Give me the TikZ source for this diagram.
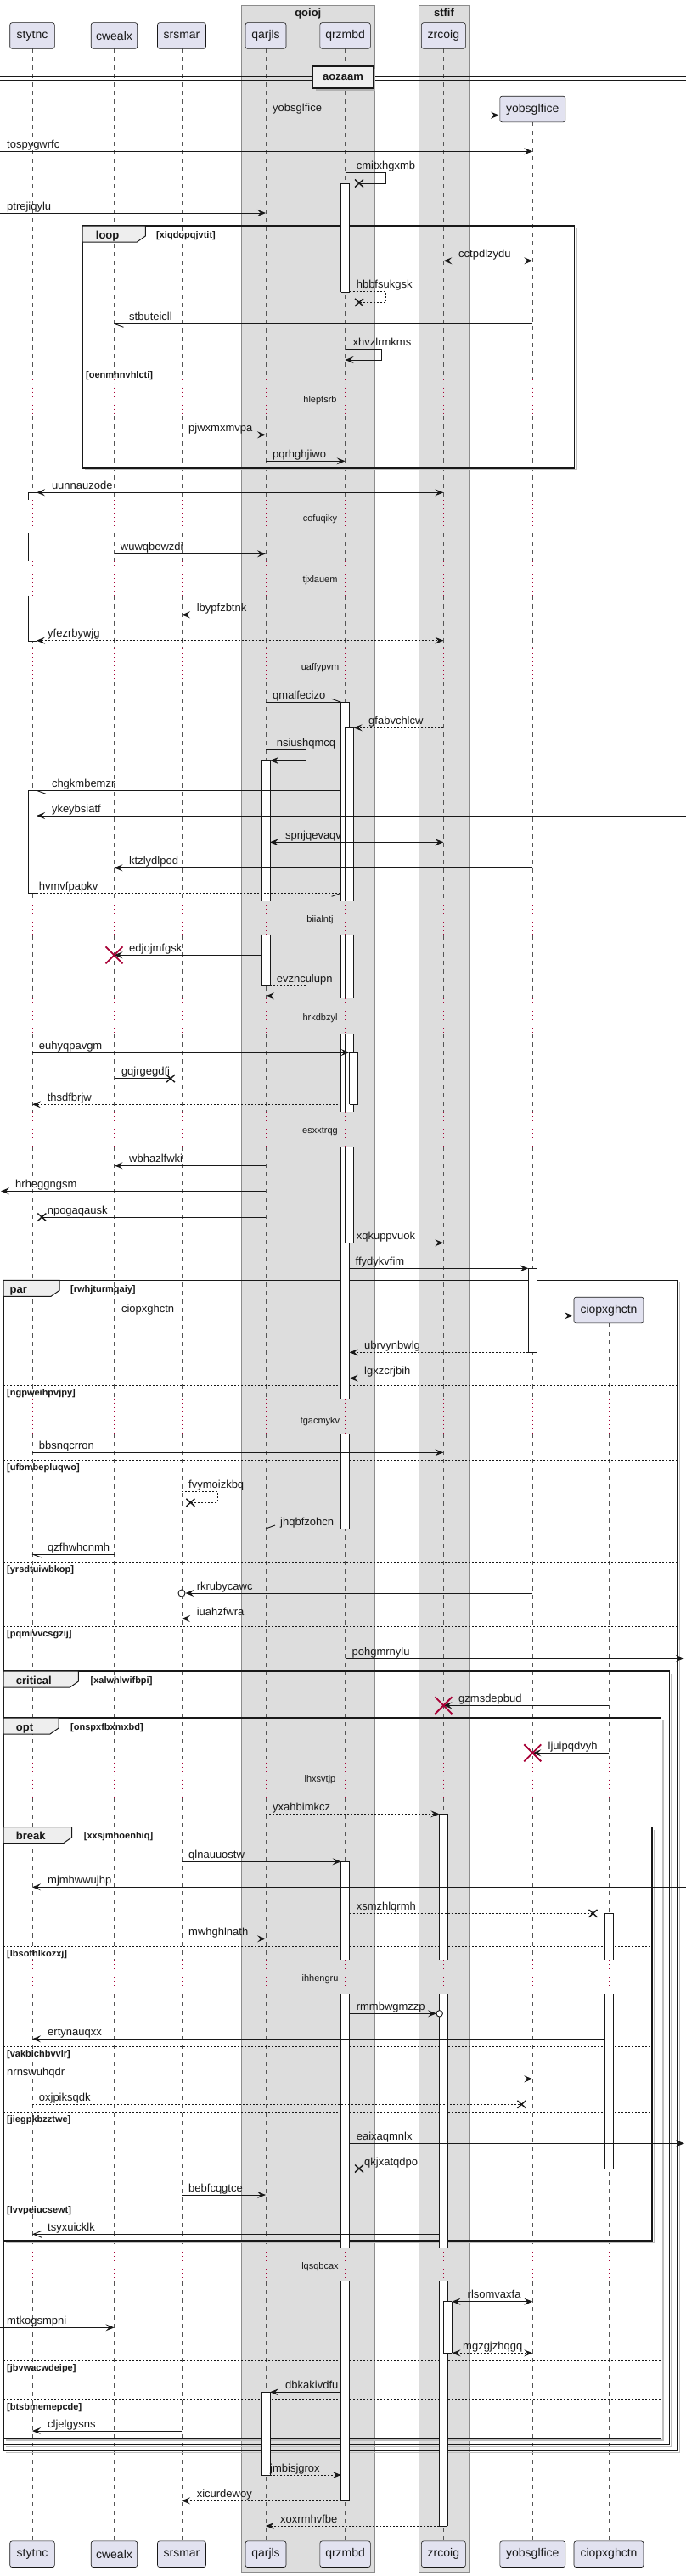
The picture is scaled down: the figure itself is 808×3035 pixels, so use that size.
\documentclass[tikz,border=0pt]{standalone}
\usepackage{fontspec}
\setmainfont{Liberation Sans}
\usetikzlibrary{arrows.meta}
\definecolor{partfill}{HTML}{E2E2F0}
\definecolor{grpfill}{HTML}{DDDDDD}
\definecolor{grpline}{HTML}{8C8C8C}
\definecolor{crim}{HTML}{A80036}
\definecolor{ink}{HTML}{181818}
\definecolor{tabfill}{HTML}{EEEEEE}
\definecolor{lifegray}{HTML}{555555}
\newcommand{\sdfm}{\fontsize{13}{15}\selectfont}
\newcommand{\sdfp}{\fontsize{14}{16}\selectfont}
\newcommand{\sdfd}{\fontsize{11}{13}\selectfont}
\newcommand{\sdfc}{\fontsize{11}{13}\selectfont\bfseries}
\newcommand{\sdft}{\fontsize{13}{15}\selectfont\bfseries}
\tikzset{
 part/.style={draw=ink, fill=partfill, rounded corners=2.5pt, line width=0.6pt, font=\sdfp, inner sep=0pt, minimum height=30.6pt, text=ink},
 lifedash/.style={draw=lifegray, line width=0.6pt, dash pattern=on 5pt off 5pt},
 lifedot/.style={draw=crim, line width=0.8pt, dash pattern=on 1pt off 4pt},
 mline/.style={draw=ink, line width=0.9pt},
 dsh/.style={dash pattern=on 2pt off 2pt},
 arr/.style={-{Stealth[length=10pt,width=8pt,inset=4pt]}},
 arrb/.style={{Stealth[length=10pt,width=8pt,inset=4pt]}-{Stealth[length=10pt,width=8pt,inset=4pt]}},
 arro/.style={-{Straight Barb[length=10pt,width=8pt]}},
 lbl/.style={anchor=base west, inner sep=0pt, font=\sdfm, text=ink},
 actline/.style={draw=ink, line width=0.8pt},
 frameline/.style={draw=ink, line width=1.5pt},
 frameshadow/.style={draw=black!25, line width=1.5pt},
 sepline/.style={draw=ink, line width=0.8pt, dash pattern=on 2pt off 2pt},
 condlbl/.style={anchor=base west, inner sep=0pt, font=\sdfc, text=ink},
 tablbl/.style={anchor=base west, inner sep=0pt, font=\sdft, text=ink},
 dlbl/.style={anchor=base, inner sep=0pt, font=\sdfd, text=ink},
}
\newcommand{\sdmsg}[7]{%
  \coordinate (#1a) at (#2,#4);
  \coordinate (#1b) at (#3,#4);
  \draw[mline,#5] (#1a) -- (#1b);
  \node[lbl] (#1l) at (#6,#4-4) {#7};}
\newcommand{\sdself}[9]{%
  \coordinate (#1a) at (#2,#3);
  \coordinate (#1b) at (#6,#4);
  \draw[mline,#7] (#1a) -- (#5,#3) -- (#5,#4) -- (#1b);
  \node[lbl] (#1l) at (#8,#3-4) {#9};}
\newcommand{\sdx}[2]{\draw[ink, line width=1.4pt] (#1-5,#2-4.5) -- (#1+5,#2+4.5) (#1-5,#2+4.5) -- (#1+5,#2-4.5);}
\newcommand{\sdrx}[2]{\draw[crim, line width=1.8pt] (#1-10,#2-10) -- (#1+10,#2+10) (#1-10,#2+10) -- (#1+10,#2-10);}
\newcommand{\sdseg}[3]{\fill[white] (#1,#2) rectangle (#1+10,#3); \draw[actline] (#1,#2) -- (#1,#3) (#1+10,#2) -- (#1+10,#3);}
\newcommand{\sdcap}[2]{\draw[actline] (#1,#2) -- (#1+10,#2);}
\newcommand{\sdtab}[3]{\filldraw[fill=tabfill, draw=ink, line width=1pt] (#1,#2) -- (#1+#3,#2) -- (#1+#3,#2+12) -- (#1+#3-10,#2+19) -- (#1,#2+19) -- cycle;}
\newcommand{\sdframe}[4]{\draw[frameshadow] (#1+3,#4+2.5) -- (#3+2.5,#4+2.5) -- (#3+2.5,#2+3); \draw[frameline] (#1,#2) rectangle (#3,#4);}
\newcommand{\sdsep}[5]{\draw[sepline] (#2,#4) -- (#3,#4); \node[condlbl] (#1) at (#2+4,#4+12) {#5};}
\newcommand{\sdDashAll}{57.3/446.7,490/589,628/661,701.7/764,803/1061,1101.7/1176,1218/1310,1351/1647.7,1689/2071.7,2118.3/2309.3,2349.3/2648.3,2688.3/2993.3}
\newcommand{\sdDotAll}{446.7/490,589/628,661/701.7,764/803,1061/1101.7,1176/1218,1310/1351,1647.7/1689,2071.7/2118.3,2309.3/2349.3,2648.3/2688.3}
\newcommand{\sdDashY}{144/446.7,490/589,628/661,701.7/764,803/1061,1101.7/1176,1218/1310,1351/1647.7,1689/2071.7,2118.3/2309.3,2349.3/2648.3,2688.3/2993.3}
\newcommand{\sdDashC}{1559/1647.7,1689/2071.7,2118.3/2309.3,2349.3/2648.3,2688.3/2993.3}
\newcommand{\sdDotC}{1647.7/1689,2071.7/2118.3,2309.3/2349.3,2648.3/2688.3}
\begin{document}
\begin{tikzpicture}[x=1pt,y=-1pt]
\useasboundingbox (0,0) rectangle (808,3035);
\fill[white] (0,0) rectangle (808,3035);
% groups
\filldraw[fill=grpfill, draw=grpline, line width=0.8pt] (284.6,6) rectangle (441,3030.7);
\filldraw[fill=grpfill, draw=grpline, line width=0.8pt] (493.4,6) rectangle (552.6,3030.7);
\node[anchor=base, inner sep=0pt, font=\sdft, text=ink] (g1) at (362.8,19.5) {qoioj};
\node[anchor=base, inner sep=0pt, font=\sdft, text=ink] (g2) at (523,19.5) {stfif};
% lifelines
\foreach \xx in {38,134.5,214,313,406.6,522.4}{
  \foreach \ya/\yb in \sdDashAll {\draw[lifedash] (\xx,\ya) -- (\xx,\yb);}
  \foreach \ya/\yb in \sdDotAll {\draw[lifedot] (\xx,\ya) -- (\xx,\yb);}
}
\foreach \ya/\yb in \sdDashY {\draw[lifedash] (627.3,\ya) -- (627.3,\yb);}
\foreach \ya/\yb in \sdDotAll {\draw[lifedot] (627.3,\ya) -- (627.3,\yb);}
\foreach \ya/\yb in \sdDashC {\draw[lifedash] (717,\ya) -- (717,\yb);}
\foreach \ya/\yb in \sdDotC {\draw[lifedot] (717,\ya) -- (717,\yb);}
% participants
\node[part, minimum width=52.6pt] (p1) at (38,42) {stytnc};
\node[part, minimum width=54.5pt] (p2) at (134.5,42) {cwealx};
\node[part, minimum width=57pt] (p3) at (214,42) {srsmar};
\node[part, minimum width=48pt] (p4) at (313,42) {qarjls};
\node[part, minimum width=59.5pt] (p5) at (406.6,42) {qrzmbd};
\node[part, minimum width=52pt] (p6) at (522.4,42) {zrcoig};
\node[part, minimum width=77pt] (p7) at (627.3,128.5) {yobsglfice};
\node[part, minimum width=82pt] (p8) at (717,1543.5) {ciopxghctn};
\node[part, minimum width=52.6pt] (q1) at (38,3009.2) {stytnc};
\node[part, minimum width=54.5pt] (q2) at (134.5,3009.2) {cwealx};
\node[part, minimum width=57pt] (q3) at (214,3009.2) {srsmar};
\node[part, minimum width=48pt] (q4) at (313,3009.2) {qarjls};
\node[part, minimum width=59.5pt] (q5) at (406.6,3009.2) {qrzmbd};
\node[part, minimum width=52pt] (q6) at (522.4,3009.2) {zrcoig};
\node[part, minimum width=77pt] (q7) at (627.3,3009.2) {yobsglfice};
\node[part, minimum width=82pt] (q8) at (717,3009.2) {ciopxghctn};
% divider
\draw[ink, line width=0.9pt] (0,90) -- (808,90) (0,94) -- (808,94);
\fill[black!30] (371.7,81) rectangle (442.4,107);
\node[fill=tabfill, draw=ink, line width=1.5pt, minimum width=70.7pt, minimum height=26pt, inner sep=0pt, font=\sdft, text=ink] (dv) at (404,91) {aozaam};
% frames
\sdframe{97}{266}{676.6}{551}
\sdtab{97}{266}{74.3}
\node[tablbl] (f1t) at (112.7,281) {loop};
\node[condlbl] (f1c) at (184,280) {[xiqdopqjvtit]};
\sdsep{s1}{97}{676.6}{433.3}{[oenmhnvhlcti]}
\sdframe{4}{1508.3}{798}{2887}
\sdtab{4}{1508.3}{66}
\node[tablbl] (f2t) at (11.4,1523.3) {par};
\node[condlbl] (f2c) at (83,1522.3) {[rwhjturmqaiy]};
\sdsep{s2}{4}{798}{1632.3}{[ngpweihpvjpy]}
\sdsep{s3}{4}{798}{1720.3}{[ufbmbepluqwo]}
\sdsep{s4}{4}{798}{1840}{[yrsdtuiwbkop]}
\sdsep{s5}{4}{798}{1916}{[pqmivvcsgzij]}
\sdframe{4}{1969}{788.3}{2880}
\sdtab{4}{1969}{88.4}
\node[tablbl] (f3t) at (18.7,1984) {critical};
\node[condlbl] (f3c) at (106.5,1983) {[xalwhlwifbpi]};
\sdframe{4}{2024}{778.5}{2872.5}
\sdtab{4}{2024}{65}
\node[tablbl] (f4t) at (18.7,2039) {opt};
\node[condlbl] (f4c) at (83,2038) {[onspxfbxmxbd]};
\sdsep{s10}{4}{778.5}{2781}{[jbvwacwdeipe]}
\sdsep{s11}{4}{778.5}{2827.3}{[btsbmemepcde]}
\sdframe{4}{2152.7}{768}{2640}
\sdtab{4}{2152.7}{80.6}
\node[tablbl] (f5t) at (18.7,2167.7) {break};
\node[condlbl] (f5c) at (98.7,2166.7) {[xxsjmhoenhiq]};
\sdsep{s6}{4}{768}{2293.3}{[lbsofhlkozxj]}
\sdsep{s7}{4}{768}{2411.3}{[vakbichbvvlr]}
\sdsep{s8}{4}{768}{2488.3}{[jiegpkbzztwe]}
\sdsep{s9}{4}{768}{2595}{[lvvpeiucsewt]}
% activations
\sdseg{401.6}{216}{344} \sdcap{401.6}{216} \sdcap{401.6}{344}
\sdseg{33}{580.3}{589} \sdseg{33}{628}{661} \sdseg{33}{701.7}{755} \sdcap{33}{580.3} \sdcap{33}{755}
\sdseg{401.6}{827.3}{1061} \sdseg{401.6}{1101.7}{1176} \sdseg{401.6}{1218}{1310} \sdseg{401.6}{1351}{1647.7} \sdseg{401.6}{1689}{1801}
\sdcap{401.6}{827.3} \sdcap{401.6}{1801}
\sdseg{406.6}{857.3}{1061} \sdseg{406.6}{1101.7}{1176} \sdseg{406.6}{1218}{1310} \sdseg{406.6}{1351}{1464.3}
\sdcap{406.6}{857.3} \sdcap{406.6}{1464.3}
\sdseg{308}{896}{1061} \sdseg{308}{1101.7}{1161} \sdcap{308}{896} \sdcap{308}{1161}
\sdseg{33}{931.3}{1052.3} \sdcap{33}{931.3} \sdcap{33}{1052.3}
\sdseg{411.6}{1240}{1301.3} \sdcap{411.6}{1240} \sdcap{411.6}{1301.3}
\sdseg{622.3}{1494.3}{1593.3} \sdcap{622.3}{1494.3} \sdcap{622.3}{1593.3}
\sdseg{517.4}{2137.3}{2309.3} \sdseg{517.4}{2349.3}{2648.3} \sdseg{517.4}{2688.3}{2976} \sdcap{517.4}{2137.3} \sdcap{517.4}{2976}
\sdseg{401.6}{2193.3}{2309.3} \sdseg{401.6}{2349.3}{2648.3} \sdseg{401.6}{2688.3}{2946.3} \sdcap{401.6}{2193.3} \sdcap{401.6}{2946.3}
\sdseg{712}{2254.3}{2309.3} \sdseg{712}{2349.3}{2555} \sdcap{712}{2254.3} \sdcap{712}{2555}
\sdseg{522.4}{2711.7}{2772.3} \sdcap{522.4}{2711.7} \sdcap{522.4}{2772.3}
\sdseg{308}{2818.3}{2916} \sdcap{308}{2818.3} \sdcap{308}{2916}
% messages
\sdmsg{m1}{313}{588}{135.7}{arr}{321}{yobsglfice}
\sdmsg{m2}{0}{627.3}{178.3}{arr}{8}{tospygwrfc}
\sdself{m3}{406.6}{203}{216}{454.4}{423}{}{419.6}{cmitxhgxmb} \sdx{423}{216}
\sdmsg{m4}{0}{313}{251}{arr}{8}{ptrejiqylu}
\sdmsg{m5}{522.4}{627.3}{307.3}{arrb}{540}{cctpdlzydu}
\sdself{m6}{411.6}{343.3}{356.3}{454.4}{423}{dsh}{419.6}{hbbfsukgsk} \sdx{423}{356.3}
\sdmsg{m7}{627.3}{134.5}{381.3}{}{152}{stbuteicll} \draw[mline] (m7b) -- ++(11,4);
\sdself{m8}{406.6}{411.7}{424}{449}{406.6}{arr}{415.5}{xhvzlrmkms}
\sdmsg{m9}{214}{313}{512.3}{arr,dsh}{222}{pjwxmxmvpa}
\sdmsg{m10}{313}{406.6}{543.3}{arr}{321}{pqrhghjiwo}
\sdmsg{m11}{43}{522.4}{580.3}{arrb}{60.8}{uunnauzode}
\sdmsg{m12}{134.5}{313}{652.3}{arr}{141.7}{wuwqbewzdi}
\sdmsg{m13}{808}{214}{724.3}{arr}{231.6}{lbypfzbtnk}
\sdmsg{m14}{43}{522.4}{754.7}{arrb,dsh}{56}{yfezrbywjg}
\sdmsg{m15}{313}{401.6}{827.3}{}{321}{qmalfecizo} \draw[mline] (m15b) -- ++(-11,-4);
\sdmsg{m16}{522.4}{416.6}{857.3}{arr,dsh}{434}{gfabvchlcw}
\sdself{m17}{313}{883.3}{896}{360.4}{318}{arr}{325.6}{nsiushqmcq}
\sdmsg{m18}{401.6}{43}{931.3}{}{60.8}{chgkmbemzr} \draw[mline] (m18b) -- ++(11,4);
\sdmsg{m19}{808}{43}{961}{arr}{60.8}{ykeybsiatf}
\sdmsg{m20}{318}{522.4}{992.3}{arrb}{336}{spnjqevaqv}
\sdmsg{m21}{627.3}{134.5}{1022.3}{arr}{152}{ktzlydlpod}
\sdmsg{m22}{43}{401.6}{1052.3}{dsh}{45.7}{hvmvfpapkv} \draw[mline] (m22b) -- ++(-11,4);
\sdmsg{m23}{308}{134.5}{1125.3}{arr}{152}{edjojmfgsk} \sdrx{134.5}{1125.3}
\sdself{m24}{318}{1161}{1173.3}{360.4}{313}{arr,dsh}{325.6}{evznculupn}
\sdmsg{m25}{38}{411.6}{1240}{arr}{45.7}{euhyqpavgm}
\sdmsg{m26}{134.5}{201}{1270.7}{}{142.8}{gqjrgegdfi} \sdx{201}{1270.7}
\sdmsg{m27}{401.6}{38}{1301.3}{arr,dsh}{55.6}{thsdfbrjw}
\sdmsg{m28}{313}{134.5}{1373.3}{arr}{152}{wbhazlfwki}
\sdmsg{m29}{313}{1}{1403.3}{arr}{18}{hrheggngsm}
\sdmsg{m30}{313}{49.3}{1434}{}{55.6}{npogaqausk} \sdx{49.3}{1434}
\sdmsg{m31}{416.6}{522.4}{1464.3}{arr,dsh}{419.6}{xqkuppvuok}
\sdmsg{m32}{411.6}{622.3}{1494.3}{arr}{418.5}{ffydykvfim}
\sdmsg{m33}{134.5}{675}{1550.3}{arr}{142.8}{ciopxghctn}
\sdmsg{m34}{622.3}{411.6}{1593.3}{arr,dsh}{429}{ubrvynbwlg}
\sdmsg{m35}{717}{411.6}{1623.7}{arr}{429}{lgxzcrjbih}
\sdmsg{m36}{38}{522.4}{1711.3}{arr}{45.7}{bbsnqcrron}
\sdself{m37}{214}{1757.3}{1770.3}{256}{224.4}{dsh}{222}{fvymoizkbq} \sdx{224.4}{1770.3}
\sdmsg{m38}{401.6}{313}{1801}{dsh}{330}{jhqbfzohcn} \draw[mline] (m38b) -- ++(11,-4);
\sdmsg{m39}{134.5}{38}{1831}{}{56}{qzfhwhcnmh} \draw[mline] (m39b) -- ++(11,4);
\sdmsg{m40}{627.3}{218.5}{1877}{arr}{231.6}{rkrubycawc} \draw[ink, fill=white, line width=0.9pt] (214,1877) circle (4pt);
\sdmsg{m41}{313}{214}{1907}{arr}{231.6}{iuahzfwra}
\sdmsg{m42}{406.6}{806}{1954}{arr}{414.4}{pohgmrnylu}
\sdmsg{m43}{717}{522.4}{2009.3}{arr}{540}{gzmsdepbud} \sdrx{522.4}{2009.3}
\sdmsg{m44}{717}{627.3}{2065.3}{arr}{645.5}{ljuipqdvyh} \sdrx{627.3}{2065.3}
\sdmsg{m45}{313}{517.4}{2137.3}{arr,dsh}{321}{yxahbimkcz}
\sdmsg{m46}{214}{401.6}{2193.3}{arr}{222}{qlnauuostw}
\sdmsg{m47}{808}{38}{2223.3}{arr}{56}{mjmhwwujhp}
\sdmsg{m48}{411.6}{698.5}{2254.3}{dsh}{419.6}{xsmzhlqrmh} \sdx{698.5}{2254.3}
\sdmsg{m49}{214}{313}{2284.3}{arr}{222}{mwhghlnath}
\sdmsg{m50}{411.6}{514}{2372.3}{arr}{419.6}{rmmbwgmzzp} \draw[ink, fill=white, line width=0.9pt] (517.7,2372.3) circle (3.7pt);
\sdmsg{m51}{712}{38}{2402.3}{arr}{56}{ertynauqxx}
\sdmsg{m52}{0}{627.3}{2449.3}{arr}{8}{nrnswuhqdr}
\sdmsg{m53}{38}{614.4}{2479.3}{dsh}{45.7}{oxjpiksqdk} \sdx{614.4}{2479.3}
\sdmsg{m54}{411.6}{806}{2525.3}{arr}{419.6}{eaixaqmnlx}
\sdmsg{m55}{712}{423}{2555}{dsh}{429}{qkjxatqdpo} \sdx{423}{2555}
\sdmsg{m56}{214}{313}{2586}{arr}{222}{bebfcqgtce}
\sdmsg{m57}{517.4}{38}{2632.3}{arro}{56}{tsyxuicklk}
\sdmsg{m58}{532.4}{627.3}{2711.7}{arrb}{550.5}{rlsomvaxfa}
\sdmsg{m59}{0}{134.5}{2742.3}{arr}{8}{mtkogsmpni}
\sdmsg{m60}{532.4}{627.3}{2772.3}{arrb,dsh}{545}{mgzgjzhqgq}
\sdmsg{m61}{401.6}{318}{2818.3}{arr}{336}{dbkakivdfu}
\sdmsg{m62}{214}{38}{2864}{arr}{56}{cljelgysns}
\sdmsg{m63}{318}{401.6}{2916}{arr,dsh}{318}{jmbisjgrox}
\sdmsg{m64}{401.6}{214}{2946.3}{arr,dsh}{231.6}{xicurdewoy}
\sdmsg{m65}{517.4}{313}{2976}{arr,dsh}{330}{xoxrmhvfbe}
% delays
\node[dlbl] (d1) at (377,474) {hleptsrb};
\node[dlbl] (d2) at (377,614) {cofuqiky};
\node[dlbl] (d3) at (377,686.3) {tjxlauem};
\node[dlbl] (d4) at (377,789.7) {uaffypvm};
\node[dlbl] (d5) at (377,1086.3) {biialntj};
\node[dlbl] (d6) at (377,1202.3) {hrkdbzyl};
\node[dlbl] (d7) at (377,1335.7) {esxxtrqg};
\node[dlbl] (d8) at (377,1677.3) {tgacmykv};
\node[dlbl] (d9) at (377,2099.7) {lhxsvtjp};
\node[dlbl] (d10) at (377,2334.3) {ihhengru};
\node[dlbl] (d11) at (377,2673.7) {lqsqbcax};
\end{tikzpicture}
\end{document}
